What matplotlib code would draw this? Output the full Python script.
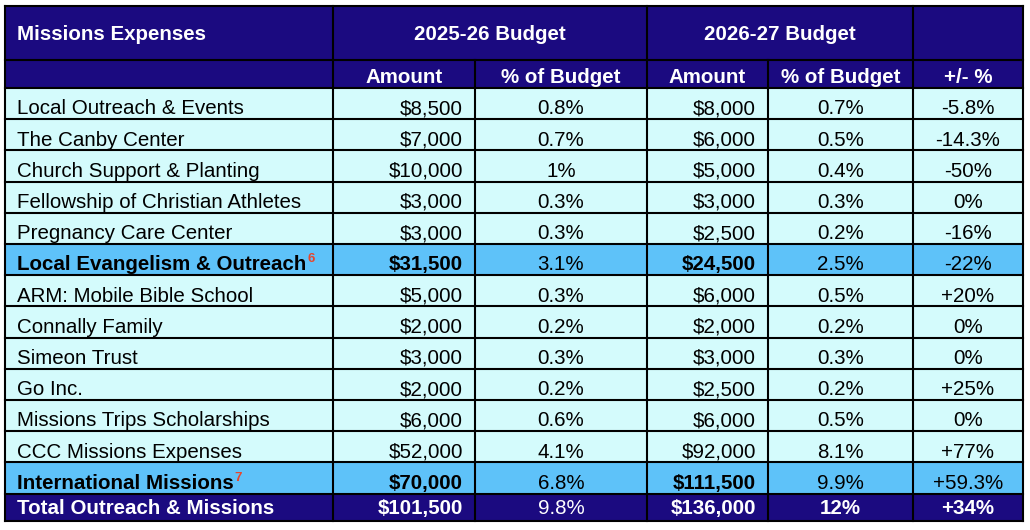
import matplotlib
matplotlib.use("Agg")
import matplotlib.pyplot as plt
from matplotlib.patches import Rectangle

# ---------------- data ----------------
names = ["Local Outreach & Events", "The Canby Center", "Church Support & Planting",
         "Fellowship of Christian Athletes", "Pregnancy Care Center",
         "Local Evangelism & Outreach", "ARM: Mobile Bible School", "Connally Family",
         "Simeon Trust", "Go Inc.", "Missions Trips Scholarships", "CCC Missions Expenses",
         "International Missions", "Total Outreach & Missions"]
amt_2526 = [8500, 7000, 10000, 3000, 3000, 31500, 5000, 2000, 3000, 2000, 6000, 52000, 70000, 101500]
pct_2526 = ["0.8%", "0.7%", "1%", "0.3%", "0.3%", "3.1%", "0.3%", "0.2%", "0.3%", "0.2%",
            "0.6%", "4.1%", "6.8%", "9.8%"]
amt_2627 = [8000, 6000, 5000, 3000, 2500, 24500, 6000, 2000, 3000, 2500, 6000, 92000, 111500, 136000]
pct_2627 = ["0.7%", "0.5%", "0.4%", "0.3%", "0.2%", "2.5%", "0.5%", "0.2%", "0.3%", "0.2%",
            "0.5%", "8.1%", "9.9%", "12%"]
change = ["-5.8%", "-14.3%", "-50%", "0%", "-16%", "-22%", "+20%", "0%", "0%", "+25%",
          "0%", "+77%", "+59.3%", "+34%"]
row_kind = ["item"] * 5 + ["sub"] + ["item"] * 6 + ["sub", "total"]
footnotes = {5: "6", 12: "7"}

header1 = ["Missions Expenses", "2025-26 Budget", "2026-27 Budget", ""]
header2 = ["", "Amount", "% of Budget", "Amount", "% of Budget", "+/- %"]

# ---------------- style ----------------
NAVY = "#1b0a80"
SUB = "#5ec2f9"
CYAN = "#d4fbfc"
RED = "#e8452c"
FONT = "Liberation Sans"
FS = 14.8

plt.rcParams['font.family'] = [FONT, 'DejaVu Sans']

fig = plt.figure(figsize=(10.3, 5.3), dpi=100)
ax = fig.add_axes([0, 0, 1, 1])
ax.set_xlim(0, 1030)
ax.set_ylim(530, 0)
ax.axis("off")

xs = [5, 333, 475, 647, 768, 913, 1023]
y_h1 = 6
y_h2 = 60
y_body = 88
row_h = 31.2
n = len(names)
row_tops = [y_body + i * row_h for i in range(n)]
y_bottom = 521
row_bots = row_tops[1:] + [y_bottom]

LW = 1.5

# header backgrounds
ax.add_patch(Rectangle((xs[0], y_h1), xs[-1] - xs[0], y_body - y_h1, facecolor=NAVY, edgecolor="none"))

# body backgrounds
for i in range(n):
    col = {"item": CYAN, "sub": SUB, "total": NAVY}[row_kind[i]]
    ax.add_patch(Rectangle((xs[0], row_tops[i]), xs[-1] - xs[0], row_bots[i] - row_tops[i],
                           facecolor=col, edgecolor="none"))

# grid lines
for y in [y_h1, y_h2, y_body] + row_tops[1:] + [y_bottom]:
    ax.plot([xs[0], xs[-1]], [y, y], color="black", lw=LW, solid_capstyle="projecting")
for j, x in enumerate(xs):
    if j in (0, 1, 3, 5, 6):
        ax.plot([x, x], [y_h1, y_bottom], color="black", lw=LW, solid_capstyle="projecting")
    else:
        ax.plot([x, x], [y_h2, y_bottom], color="black", lw=LW, solid_capstyle="projecting")

# header text
ax.text(17, 40.5, header1[0], color="white", fontsize=FS, fontweight="bold", ha="left", va="baseline")
ax.text((xs[1] + xs[3]) / 2, 40.5, header1[1], color="white", fontsize=FS, fontweight="bold",
        ha="center", va="baseline")
ax.text((xs[3] + xs[5]) / 2, 40.5, header1[2], color="white", fontsize=FS, fontweight="bold",
        ha="center", va="baseline")
for j in range(1, 6):
    ax.text((xs[j] + xs[j + 1]) / 2, 83, header2[j], color="white", fontsize=FS, fontweight="bold",
            ha="center", va="baseline")

# body text
name_texts = {}
for i in range(n):
    kind = row_kind[i]
    base = row_tops[i] + 26.3 if kind != "total" else 514
    tc = "white" if kind == "total" else "black"
    bold_name = "bold" if kind in ("sub", "total") else "normal"
    t = ax.text(17, base, names[i], color=tc, fontsize=FS, fontweight=bold_name,
                ha="left", va="baseline")
    name_texts[i] = (t, base)
    ax.text(xs[2] - 12, base, f"${amt_2526[i]:,}", color=tc, fontsize=FS, fontweight=bold_name,
            ha="right", va="baseline")
    ax.text((xs[2] + xs[3]) / 2, base, pct_2526[i], color=tc, fontsize=FS, fontweight="normal",
            ha="center", va="baseline")
    ax.text(xs[4] - 12, base, f"${amt_2627[i]:,}", color=tc, fontsize=FS, fontweight=bold_name,
            ha="right", va="baseline")
    w_tot = "bold" if kind == "total" else "normal"
    ax.text((xs[4] + xs[5]) / 2, base, pct_2627[i], color=tc, fontsize=FS, fontweight=w_tot,
            ha="center", va="baseline")
    ax.text((xs[5] + xs[6]) / 2, base, change[i], color=tc, fontsize=FS, fontweight=w_tot,
            ha="center", va="baseline")

# footnote superscripts
fig.canvas.draw()
renderer = fig.canvas.get_renderer()
for i, note in footnotes.items():
    t, base = name_texts[i]
    bb = t.get_window_extent(renderer)
    x_end = ax.transData.inverted().transform((bb.x1, bb.y0))[0]
    ax.text(x_end + 1, base - 8, note, color=RED, fontsize=9.5, fontweight="bold",
            ha="left", va="baseline")

fig.savefig("out.png", dpi=100)
